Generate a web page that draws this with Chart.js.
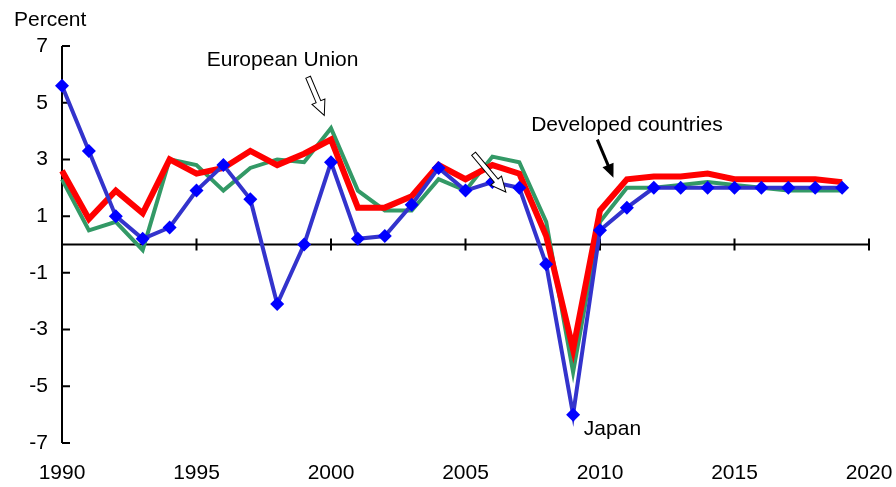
<!DOCTYPE html>
<html>
<head>
<meta charset="utf-8">
<script src="https://cdn.jsdelivr.net/npm/chart.js@4.4.1/dist/chart.umd.min.js"></script>
<style>
    html, body { margin: 0; padding: 0; background: #fff; }
</style>
</head>
<body>
<canvas id="myChart" width="896" height="487"></canvas>
<script>
const years = [1990, 1991, 1992, 1993, 1994, 1995, 1996, 1997, 1998, 1999,
               2000, 2001, 2002, 2003, 2004, 2005, 2006, 2007, 2008, 2009,
               2010, 2011, 2012, 2013, 2014, 2015, 2016, 2017, 2018, 2019];

const japan = [5.6, 3.3, 1.0, 0.2, 0.6, 1.9, 2.8, 1.6, -2.1, 0.0,
               2.9, 0.2, 0.3, 1.4, 2.7, 1.9, 2.2, 2.0, -0.7, -6.0,
               0.5, 1.3, 2.0, 2.0, 2.0, 2.0, 2.0, 2.0, 2.0, 2.0];

const developed = [2.6, 0.9, 1.9, 1.1, 3.0, 2.5, 2.7, 3.3, 2.8, 3.2,
                   3.7, 1.3, 1.3, 1.7, 2.8, 2.3, 2.8, 2.5, 0.3, -3.7,
                   1.2, 2.3, 2.4, 2.4, 2.5, 2.3, 2.3, 2.3, 2.3, 2.2];

const eu = [2.3, 0.5, 0.8, -0.2, 3.0, 2.8, 1.9, 2.7, 3.0, 2.9,
            4.1, 1.9, 1.2, 1.2, 2.3, 1.9, 3.1, 2.9, 0.8, -4.5,
            0.8, 2.0, 2.0, 2.1, 2.2, 2.1, 2.0, 1.9, 1.9, 1.9];

const xTicks = [1990, 1995, 2000, 2005, 2010, 2015, 2020];
const yTicks = [-7, -5, -3, -1, 1, 3, 5, 7];

const FONT = '"Liberation Sans", Arial, sans-serif';

function toPoints(values) {
    return years.map((yr, i) => ({ x: yr, y: values[i] }));
}

// axis lines drawn the way the original has them (y axis with inner ticks, zero line with crossing ticks)
const axesPlugin = {
    id: 'axesPlugin',
    beforeDatasetsDraw(chart) {
        const ctx = chart.ctx;
        const xs = chart.scales.x;
        const ys = chart.scales.y;
        const x0 = xs.getPixelForValue(1990);
        const zero = ys.getPixelForValue(0);
        ctx.save();
        ctx.strokeStyle = '#000';
        ctx.lineWidth = 2;
        ctx.beginPath();
        ctx.moveTo(x0, ys.getPixelForValue(7));
        ctx.lineTo(x0, ys.getPixelForValue(-7));
        yTicks.forEach(v => {
            const py = ys.getPixelForValue(v);
            ctx.moveTo(x0, py);
            ctx.lineTo(x0 + 8, py);
        });
        ctx.moveTo(x0, zero);
        ctx.lineTo(xs.getPixelForValue(2020), zero);
        xTicks.slice(1).forEach(v => {
            const px = xs.getPixelForValue(v);
            ctx.moveTo(px, zero - 6);
            ctx.lineTo(px, zero + 6);
        });
        ctx.stroke();
        ctx.restore();
    }
};

function hollowArrow(ctx, x1, y1, x2, y2) {
    const ang = Math.atan2(y2 - y1, x2 - x1);
    const len = Math.hypot(x2 - x1, y2 - y1);
    const headLen = 15, headW = 7, shaftW = 2.5;
    ctx.save();
    ctx.translate(x1, y1);
    ctx.rotate(ang);
    ctx.beginPath();
    ctx.moveTo(0, -shaftW);
    ctx.lineTo(len - headLen, -shaftW);
    ctx.lineTo(len - headLen, -headW);
    ctx.lineTo(len, 0);
    ctx.lineTo(len - headLen, headW);
    ctx.lineTo(len - headLen, shaftW);
    ctx.lineTo(0, shaftW);
    ctx.closePath();
    ctx.fillStyle = '#fff';
    ctx.fill();
    ctx.strokeStyle = '#000';
    ctx.lineWidth = 1;
    ctx.stroke();
    ctx.restore();
}

function solidArrow(ctx, x1, y1, x2, y2) {
    const ang = Math.atan2(y2 - y1, x2 - x1);
    const len = Math.hypot(x2 - x1, y2 - y1);
    const headLen = 14, headW = 6;
    ctx.save();
    ctx.translate(x1, y1);
    ctx.rotate(ang);
    ctx.strokeStyle = '#000';
    ctx.lineWidth = 3;
    ctx.beginPath();
    ctx.moveTo(0, 0);
    ctx.lineTo(len - headLen + 2, 0);
    ctx.stroke();
    ctx.beginPath();
    ctx.moveTo(len, 0);
    ctx.lineTo(len - headLen, -headW);
    ctx.lineTo(len - headLen, headW);
    ctx.closePath();
    ctx.fillStyle = '#000';
    ctx.fill();
    ctx.restore();
}

// labels and arrows, placed in data coordinates
const notesPlugin = {
    id: 'notesPlugin',
    afterDatasetsDraw(chart) {
        const ctx = chart.ctx;
        const xs = chart.scales.x;
        const ys = chart.scales.y;
        const px = v => xs.getPixelForValue(v);
        const py = v => ys.getPixelForValue(v);
        ctx.save();
        ctx.fillStyle = '#000';
        ctx.font = '21px ' + FONT;
        ctx.textBaseline = 'middle';

        ctx.textAlign = 'left';
        ctx.fillText('Percent', 14, 20);

        ctx.textAlign = 'center';
        ctx.fillText('European Union', px(1998.2), py(6.5));
        ctx.fillText('Developed countries', px(2011.0), py(4.2));
        ctx.textAlign = 'left';
        ctx.fillText('Japan', px(2009.4), py(-6.5));
        ctx.restore();

        hollowArrow(ctx, px(1999.15), py(5.9), px(1999.75), py(4.55));
        hollowArrow(ctx, px(2005.3), py(3.2), px(2006.5), py(1.85));
        solidArrow(ctx, px(2009.9), py(3.7), px(2010.5), py(2.35));
    }
};

const ctx = document.getElementById('myChart').getContext('2d');
const myChart = new Chart(ctx, {
    type: 'line',
    data: {
        datasets: [
            {
                label: 'Japan',
                data: toPoints(japan),
                borderColor: '#3333cc',
                borderWidth: 4,
                pointStyle: 'rectRot',
                pointRadius: 7,
                pointBackgroundColor: '#0000ff',
                pointBorderColor: '#0000ff',
                pointBorderWidth: 0,
                tension: 0,
                fill: false
            },
            {
                label: 'Developed countries',
                data: toPoints(developed),
                borderColor: '#ff0000',
                borderWidth: 6,
                pointRadius: 0,
                tension: 0,
                fill: false
            },
            {
                label: 'European Union',
                data: toPoints(eu),
                borderColor: '#339966',
                borderWidth: 4,
                pointRadius: 0,
                tension: 0,
                fill: false
            }
        ]
    },
    options: {
        responsive: false,
        animation: false,
        clip: false,
        layout: { padding: { top: 46, right: 27, left: 0, bottom: 0 } },
        plugins: {
            legend: { display: false },
            tooltip: { enabled: false }
        },
        scales: {
            x: {
                type: 'linear',
                min: 1990,
                max: 2020,
                grid: { display: false, drawTicks: false },
                border: { display: false },
                ticks: {
                    stepSize: 5,
                    padding: 18,
                    color: '#000',
                    font: { family: FONT, size: 21 },
                    maxRotation: 0,
                    callback: v => String(v)
                },
                afterFit: s => {
                    s.height = 44;
                    s.paddingLeft = 0;
                    s.paddingRight = 0;
                }
            },
            y: {
                min: -7,
                max: 7,
                grid: { display: false, drawTicks: false },
                border: { display: false },
                ticks: {
                    stepSize: 2,
                    padding: 14,
                    color: '#000',
                    font: { family: FONT, size: 21 }
                },
                afterFit: s => {
                    s.width = 62;
                    s.paddingTop = 0;
                    s.paddingBottom = 0;
                }
            }
        }
    },
    plugins: [axesPlugin, notesPlugin]
});
</script>
</body>
</html>
